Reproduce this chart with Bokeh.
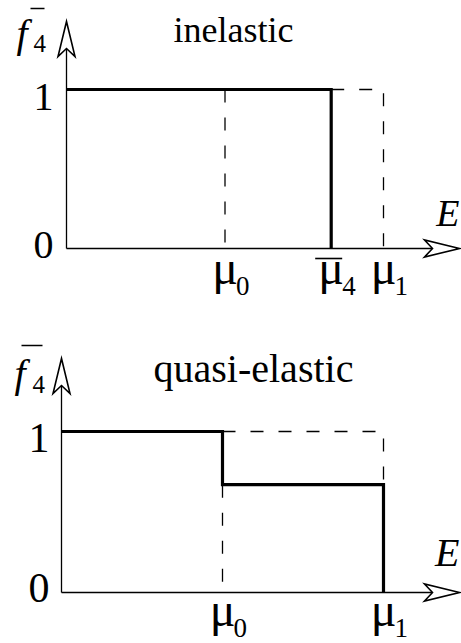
from bokeh.plotting import figure
from bokeh.layouts import column
from bokeh.models import Range1d
from bokeh.core.properties import value
from bokeh.embed import file_html
from bokeh.resources import INLINE

# ---------------- data ----------------
panel_titles = ["inelastic", "quasi-elastic"]
y_tick_values = [0.0, 1.0]
y_tick_labels = ["0", "1"]
x_axis_label = "E"
y_axis_label = "f"
y_axis_sub = "4"

# energies in units of mu1
mu0 = 0.5
mu4 = 0.835
mu1 = 1.0
quasi_level = 0.67

# inelastic panel
inel_step_x = [0.0, mu4, mu4]
inel_step_y = [1.0, 1.0, 0.0]
inel_guides_x = [[mu0, mu0], [mu4, mu1, mu1]]
inel_guides_y = [[1.0, 0.0], [1.0, 1.0, 0.0]]
inel_tick_x = [mu0, mu4, mu1]
inel_tick_sub = ["0", "4", "1"]
inel_tick_bar = [False, True, False]

# quasi-elastic panel
quasi_step_x = [0.0, mu0, mu0, mu1, mu1]
quasi_step_y = [1.0, 1.0, quasi_level, quasi_level, 0.0]
quasi_guides_x = [[mu0, mu1, mu1], [mu0, mu0]]
quasi_guides_y = [[1.0, 1.0, quasi_level], [quasi_level, 0.0]]
quasi_tick_x = [mu0, mu1]
quasi_tick_sub = ["0", "1"]
quasi_tick_bar = [False, False]

# ---------------- layout (page pixels) ----------------
W = 461
PAGE_OFF = 0
FONT = value("Liberation Serif")
K_BASE = 0.37   # baseline compensation (fraction of font size)
LAYOUTS = [
    dict(h=320, top=0, x0=66, xs=317, y0=248, ys=159, xtip_px=459, ytip_px=21,
         title_left=173, title_base=43, title_size=36,
         f_left=16, f_base=48, f_size=40, sub4_left=33, sub4_base=52, bar_f=(30, 44, 8),
         e_right=459, e_base=227, e_size=38, tick_right=53, tick_size=40,
         mu_base=37, mu_sub_base=47),
    dict(h=323, top=320, x0=61, xs=322, y0=592, ys=161, xtip_px=459, ytip_px=358,
         title_left=153, title_base=383, title_size=40,
         f_left=14, f_base=388, f_size=40, sub4_left=32, sub4_base=393, bar_f=(21, 42, 345),
         e_right=459, e_base=567, e_size=40, tick_right=49, tick_size=42,
         mu_base=35, mu_sub_base=45),
]
HEAD_L, HEAD_H, HEAD_N = 35, 8.5, 8
MU_SIZE, SUB_SIZE, F_SUB_SIZE = 48, 27, 25


def add_text(p, x, y, text, size, yoff=0, xoff=0, align="left", italic=False):
    n = len(text)
    offs = yoff if isinstance(yoff, list) else [yoff] * n
    p.text(x=x, y=y, text=text,
           x_offset=xoff, y_offset=[o - K_BASE * size for o in offs],
           text_font=FONT, text_font_style="italic" if italic else "normal",
           text_font_size=f"{size}px", text_align=align,
           text_baseline="alphabetic", text_color="black")


def make_panel(L, title, sx, sy, gx, gy, tx, tsub, tbar):
    def dx(px):
        return (px - L["x0"]) / L["xs"]

    def dy(py):
        return (L["y0"] - py) / L["ys"]

    p = figure(width=W, height=L["h"],
               x_range=Range1d(dx(PAGE_OFF), dx(PAGE_OFF + W)),
               y_range=Range1d(dy(L["top"] + L["h"]), dy(L["top"])),
               x_axis_type=None, y_axis_type=None,
               toolbar_location=None, output_backend="svg",
               min_border=0, outline_line_color=None,
               background_fill_color="white", border_fill_color="white")

    # axes with open dart heads
    xt = dx(L["xtip_px"])
    hlx, hnx, hwy = HEAD_L / L["xs"], HEAD_N / L["xs"], HEAD_H / L["ys"]
    p.line([0, xt - hlx + hnx], [0, 0], line_width=1.3, color="black")
    p.patch([xt, xt - hlx, xt - hlx + hnx, xt - hlx], [0, hwy, 0, -hwy],
            fill_color="white", line_color="black", line_width=1.6, line_join="miter")
    yt = dy(L["ytip_px"])
    hly, hny, hwx = HEAD_L / L["ys"], HEAD_N / L["ys"], HEAD_H / L["xs"]
    p.line([0, 0], [0, yt - hly + hny], line_width=1.3, color="black")
    p.patch([0, -hwx, 0, hwx], [yt, yt - hly, yt - hly + hny, yt - hly],
            fill_color="white", line_color="black", line_width=1.6, line_join="miter")

    # dashed guides
    p.multi_line(gx, gy, line_width=1.3, color="black", line_dash="13 15")
    # distribution
    p.line(sx, sy, line_width=3.2, color="black", line_join="miter")

    # title
    add_text(p, [dx(L["title_left"])], [dy(L["title_base"])], [title], L["title_size"])

    # y label: f-bar with subscript 4
    add_text(p, [dx(L["f_left"])], [dy(L["f_base"])], [y_axis_label], L["f_size"], italic=True)
    add_text(p, [dx(L["sub4_left"])], [dy(L["sub4_base"])], [y_axis_sub], F_SUB_SIZE)
    bx0, bx1, by = L["bar_f"]
    p.line([dx(bx0), dx(bx1)], [dy(by), dy(by)], line_width=1.6, color="black")

    # x label E
    add_text(p, [dx(L["e_right"])], [dy(L["e_base"])], [x_axis_label], L["e_size"],
             align="right", italic=True)

    # y tick labels
    add_text(p, [dx(L["tick_right"])] * 2, y_tick_values, y_tick_labels, L["tick_size"],
             yoff=[11, 22], align="right")

    # x tick labels: mu with subscripts
    n = len(tx)
    add_text(p, tx, [0.0] * n, ["μ"] * n, MU_SIZE, yoff=L["mu_base"], align="center")
    add_text(p, tx, [0.0] * n, tsub, SUB_SIZE, yoff=L["mu_sub_base"], xoff=11)
    for xv, has_bar in zip(tx, tbar):
        if has_bar:
            yb = -10 / L["ys"]
            p.line([xv - 16 / L["xs"], xv + 11 / L["xs"]], [yb, yb], line_width=1.6, color="black")
    return p


p1 = make_panel(LAYOUTS[0], panel_titles[0], inel_step_x, inel_step_y,
                inel_guides_x, inel_guides_y, inel_tick_x, inel_tick_sub, inel_tick_bar)
p2 = make_panel(LAYOUTS[1], panel_titles[1], quasi_step_x, quasi_step_y,
                quasi_guides_x, quasi_guides_y, quasi_tick_x, quasi_tick_sub, quasi_tick_bar)

layout = column(p1, p2, spacing=0)
open("out.html", "w").write(file_html(layout, INLINE))
